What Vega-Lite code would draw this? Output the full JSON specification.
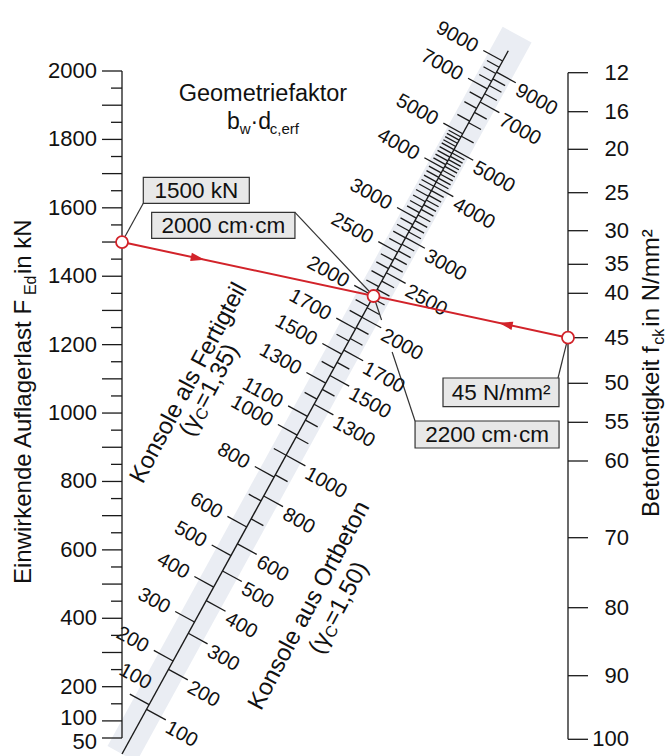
{
  "$schema": "https://vega.github.io/schema/vega-lite/v6.json",
  "width": 446,
  "height": 667,
  "autosize": {"type": "none"},
  "padding": {"left": 122, "top": 72, "right": 101, "bottom": 17},
  "background": "#ffffff",
  "config": {
    "view": {"stroke": null},
    "font": "Liberation Sans",
    "text": {"font": "Liberation Sans", "color": "#111111"}
  },
  "datasets": {
    "fertig": [
      {"A": 100, "kind": "major"}, {"A": 200, "kind": "major"}, {"A": 300, "kind": "major"}, {"A": 400, "kind": "major"},
      {"A": 500, "kind": "major"}, {"A": 600, "kind": "major"}, {"A": 700, "kind": "minor"}, {"A": 800, "kind": "major"},
      {"A": 900, "kind": "minor"}, {"A": 1000, "kind": "major"}, {"A": 1100, "kind": "major"}, {"A": 1200, "kind": "minor"},
      {"A": 1300, "kind": "major"}, {"A": 1400, "kind": "minor"}, {"A": 1500, "kind": "major"}, {"A": 1600, "kind": "minor"},
      {"A": 1700, "kind": "major"}, {"A": 1800, "kind": "minor"}, {"A": 1900, "kind": "minor"}, {"A": 2000, "kind": "major"},
      {"A": 2100, "kind": "minor"}, {"A": 2200, "kind": "minor"}, {"A": 2300, "kind": "minor"}, {"A": 2400, "kind": "minor"},
      {"A": 2500, "kind": "major"}, {"A": 2600, "kind": "minor"}, {"A": 2700, "kind": "minor"}, {"A": 2800, "kind": "minor"},
      {"A": 2900, "kind": "minor"}, {"A": 3000, "kind": "major"}, {"A": 3100, "kind": "minor"}, {"A": 3200, "kind": "minor"},
      {"A": 3300, "kind": "minor"}, {"A": 3400, "kind": "minor"}, {"A": 3500, "kind": "minor"}, {"A": 3600, "kind": "minor"},
      {"A": 3700, "kind": "minor"}, {"A": 3800, "kind": "minor"}, {"A": 3900, "kind": "minor"}, {"A": 4000, "kind": "major"},
      {"A": 4100, "kind": "minor"}, {"A": 4200, "kind": "minor"}, {"A": 4300, "kind": "minor"}, {"A": 4400, "kind": "minor"},
      {"A": 4500, "kind": "minor"}, {"A": 4600, "kind": "minor"}, {"A": 4700, "kind": "minor"}, {"A": 4800, "kind": "minor"},
      {"A": 4900, "kind": "minor"}, {"A": 5000, "kind": "major"}, {"A": 5500, "kind": "minor"}, {"A": 6000, "kind": "minor"},
      {"A": 6500, "kind": "minor"}, {"A": 7000, "kind": "major"}, {"A": 7500, "kind": "minor"}, {"A": 8000, "kind": "minor"},
      {"A": 8500, "kind": "minor"}, {"A": 9000, "kind": "major"}
    ],
    "ort": [
      {"A": 100, "kind": "major"}, {"A": 200, "kind": "major"}, {"A": 300, "kind": "major"}, {"A": 400, "kind": "major"},
      {"A": 500, "kind": "major"}, {"A": 600, "kind": "major"}, {"A": 700, "kind": "minor"}, {"A": 800, "kind": "major"},
      {"A": 900, "kind": "minor"}, {"A": 1000, "kind": "major"}, {"A": 1100, "kind": "minor"}, {"A": 1200, "kind": "minor"},
      {"A": 1300, "kind": "major"}, {"A": 1400, "kind": "minor"}, {"A": 1500, "kind": "major"}, {"A": 1600, "kind": "minor"},
      {"A": 1700, "kind": "major"}, {"A": 1800, "kind": "minor"}, {"A": 1900, "kind": "minor"}, {"A": 2000, "kind": "major"},
      {"A": 2100, "kind": "minor"}, {"A": 2200, "kind": "minor"}, {"A": 2300, "kind": "minor"}, {"A": 2400, "kind": "minor"},
      {"A": 2500, "kind": "major"}, {"A": 2600, "kind": "minor"}, {"A": 2700, "kind": "minor"}, {"A": 2800, "kind": "minor"},
      {"A": 2900, "kind": "minor"}, {"A": 3000, "kind": "major"}, {"A": 3100, "kind": "minor"}, {"A": 3200, "kind": "minor"},
      {"A": 3300, "kind": "minor"}, {"A": 3400, "kind": "minor"}, {"A": 3500, "kind": "minor"}, {"A": 3600, "kind": "minor"},
      {"A": 3700, "kind": "minor"}, {"A": 3800, "kind": "minor"}, {"A": 3900, "kind": "minor"}, {"A": 4000, "kind": "major"},
      {"A": 4100, "kind": "minor"}, {"A": 4200, "kind": "minor"}, {"A": 4300, "kind": "minor"}, {"A": 4400, "kind": "minor"},
      {"A": 4500, "kind": "minor"}, {"A": 4600, "kind": "minor"}, {"A": 4700, "kind": "minor"}, {"A": 4800, "kind": "minor"},
      {"A": 4900, "kind": "minor"}, {"A": 5000, "kind": "major"}, {"A": 5500, "kind": "minor"}, {"A": 6000, "kind": "minor"},
      {"A": 6500, "kind": "minor"}, {"A": 7000, "kind": "major"}, {"A": 7500, "kind": "minor"}, {"A": 8000, "kind": "minor"},
      {"A": 8500, "kind": "minor"}, {"A": 9000, "kind": "major"}
    ],
    "lastAxis": [
      {"F": 50, "kind": "major", "labeled": true}, {"F": 100, "kind": "major", "labeled": true}, {"F": 150, "kind": "minor", "labeled": false},
      {"F": 200, "kind": "major", "labeled": true}, {"F": 250, "kind": "minor", "labeled": false}, {"F": 300, "kind": "major", "labeled": false},
      {"F": 350, "kind": "minor", "labeled": false}, {"F": 400, "kind": "major", "labeled": true}, {"F": 450, "kind": "minor", "labeled": false},
      {"F": 500, "kind": "major", "labeled": false}, {"F": 550, "kind": "minor", "labeled": false}, {"F": 600, "kind": "major", "labeled": true},
      {"F": 650, "kind": "minor", "labeled": false}, {"F": 700, "kind": "major", "labeled": false}, {"F": 750, "kind": "minor", "labeled": false},
      {"F": 800, "kind": "major", "labeled": true}, {"F": 850, "kind": "minor", "labeled": false}, {"F": 900, "kind": "major", "labeled": false},
      {"F": 950, "kind": "minor", "labeled": false}, {"F": 1000, "kind": "major", "labeled": true}, {"F": 1050, "kind": "minor", "labeled": false},
      {"F": 1100, "kind": "major", "labeled": false}, {"F": 1150, "kind": "minor", "labeled": false}, {"F": 1200, "kind": "major", "labeled": true},
      {"F": 1250, "kind": "minor", "labeled": false}, {"F": 1300, "kind": "major", "labeled": false}, {"F": 1350, "kind": "minor", "labeled": false},
      {"F": 1400, "kind": "major", "labeled": true}, {"F": 1450, "kind": "minor", "labeled": false}, {"F": 1500, "kind": "major", "labeled": false},
      {"F": 1550, "kind": "minor", "labeled": false}, {"F": 1600, "kind": "major", "labeled": true}, {"F": 1650, "kind": "minor", "labeled": false},
      {"F": 1700, "kind": "major", "labeled": false}, {"F": 1750, "kind": "minor", "labeled": false}, {"F": 1800, "kind": "major", "labeled": true},
      {"F": 1850, "kind": "minor", "labeled": false}, {"F": 1900, "kind": "major", "labeled": false}, {"F": 1950, "kind": "minor", "labeled": false},
      {"F": 2000, "kind": "major", "labeled": true}
    ],
    "festigkeit": [
      {"fck": 12}, {"fck": 16}, {"fck": 20}, {"fck": 25}, {"fck": 30}, {"fck": 35}, {"fck": 40}, {"fck": 45},
      {"fck": 50}, {"fck": 55}, {"fck": 60}, {"fck": 70}, {"fck": 80}, {"fck": 90}, {"fck": 100}
    ],
    "reading": [{"F": 1500, "fck": 45, "A": 2000, "Ar": 2200}]
  },
  "layer": [
    {
      "name": "diagL",
      "layer": [
        {
          "data": {"values": [{}]},
          "mark": {"type": "rule", "stroke": "#eaedf3", "strokeWidth": 33, "strokeCap": "butt"},
          "encoding": {
            "x": {"datum": 0, "type": "quantitative", "axis": null, "scale": {"nice": false, "zero": false,
              "domain": [0,100,200,300,400,500,600,700,800,900,1000,1100,1200,1300,1400,1500,1600,1700,1800,1900,2000,2250,2500,2750,3000,3500,4000,4500,5000,6000,7000,8000,9000,10000,12000],
              "range": [0,27.09,51.09,72.48,91.68,108.99,124.70,139.00,152.09,164.11,175.18,185.41,194.90,203.72,211.95,219.63,226.83,233.58,239.93,245.91,251.55,264.36,275.58,285.50,294.32,309.35,321.67,331.95,340.66,354.62,365.32,373.77,380.62,386.28,395.10]}},
            "y": {"datum": 0, "type": "quantitative", "axis": null, "scale": {"nice": false, "zero": false,
              "domain": [0,100,200,300,400,500,600,700,800,900,1000,1100,1200,1300,1400,1500,1600,1700,1800,1900,2000,2250,2500,2750,3000,3500,4000,4500,5000,6000,7000,8000,9000,10000,12000],
              "range": [682,632.67,588.99,550.04,515.09,483.56,454.97,428.92,405.10,383.22,363.07,344.44,327.16,311.09,296.12,282.13,269.03,256.74,245.18,234.30,224.02,200.70,180.27,162.21,146.14,118.78,96.35,77.64,61.78,36.36,16.89,1.50,-10.96,-21.27,-37.33]}},
            "x2": {"datum": 12000},
            "y2": {"datum": 12000}
          }
        },
        {
          "data": {"values": [{}]},
          "mark": {"type": "rule", "stroke": "#1a1a1a", "strokeWidth": 1.4},
          "encoding": {
            "x": {"datum": 0, "type": "quantitative", "axis": null},
            "y": {"datum": 0, "type": "quantitative", "axis": null},
            "x2": {"datum": 10000},
            "y2": {"datum": 10000}
          }
        },
        {
          "data": {"name": "fertig"},
          "mark": {"type": "point", "shape": "M0,0L-1,0", "angle": 28.78, "filled": false, "stroke": "#1a1a1a", "strokeWidth": 1.3, "opacity": 1},
          "encoding": {
            "x": {"field": "A", "type": "quantitative", "axis": null},
            "y": {"field": "A", "type": "quantitative", "axis": null},
            "size": {"field": "kind", "type": "ordinal", "scale": {"domain": ["major", "minor"], "range": [1936, 784]}, "legend": null}
          }
        },
        {
          "data": {"name": "fertig"},
          "transform": [{"filter": "datum.kind === 'major' && datum.A !== 100"}],
          "mark": {"type": "text", "angle": 28.78, "align": "right", "baseline": "middle", "dx": -29, "dy": 1, "fontSize": 20},
          "encoding": {
            "x": {"field": "A", "type": "quantitative", "axis": null},
            "y": {"field": "A", "type": "quantitative", "axis": null},
            "text": {"field": "A", "type": "quantitative", "format": "d"}
          }
        },
        {
          "data": {"name": "fertig"},
          "transform": [{"filter": "datum.A === 100"}],
          "mark": {"type": "text", "angle": 28.78, "align": "right", "baseline": "alphabetic", "dx": -9, "dy": -12, "fontSize": 20},
          "encoding": {
            "x": {"field": "A", "type": "quantitative", "axis": null},
            "y": {"field": "A", "type": "quantitative", "axis": null},
            "text": {"field": "A", "type": "quantitative", "format": "d"}
          }
        },
        {
          "data": {"values": [{}]},
          "mark": {"type": "text", "text": "Konsole als Fertigteil", "angle": 298, "align": "center", "baseline": "middle", "dx": -5, "dy": -120, "fontSize": 24},
          "encoding": {"x": {"datum": 1000, "axis": null}, "y": {"datum": 1000, "axis": null}}
        },
        {
          "data": {"values": [{}]},
          "mark": {"type": "text", "text": "(γ", "angle": 298, "align": "left", "baseline": "middle", "dx": -51.8, "dy": -98.6, "fontSize": 24},
          "encoding": {"x": {"datum": 1000, "axis": null}, "y": {"datum": 1000, "axis": null}}
        },
        {
          "data": {"values": [{}]},
          "mark": {"type": "text", "text": "C", "angle": 298, "align": "left", "baseline": "middle", "dx": -31.8, "dy": -93.6, "fontSize": 16},
          "encoding": {"x": {"datum": 1000, "axis": null}, "y": {"datum": 1000, "axis": null}}
        },
        {
          "data": {"values": [{}]},
          "mark": {"type": "text", "text": "=1,35)", "angle": 298, "align": "left", "baseline": "middle", "dx": -20.2, "dy": -98.6, "fontSize": 24},
          "encoding": {"x": {"datum": 1000, "axis": null}, "y": {"datum": 1000, "axis": null}}
        },
        {
          "data": {"name": "reading"},
          "mark": {"type": "rule", "stroke": "#333333", "strokeWidth": 1.2, "x2Offset": -78.6, "y2Offset": -83.7},
          "encoding": {
            "x": {"field": "A", "type": "quantitative", "axis": null},
            "y": {"field": "A", "type": "quantitative", "axis": null},
            "x2": {"field": "A"},
            "y2": {"field": "A"}
          }
        },
        {
          "data": {"name": "reading"},
          "mark": {"type": "rule", "stroke": "#333333", "strokeWidth": 1.2, "x2Offset": 8, "y2Offset": 24},
          "encoding": {
            "x": {"field": "A", "type": "quantitative", "axis": null},
            "y": {"field": "A", "type": "quantitative", "axis": null},
            "x2": {"field": "A"},
            "y2": {"field": "A"}
          }
        },
        {
          "data": {"name": "reading"},
          "mark": {"type": "rule", "stroke": "#333333", "strokeWidth": 1.2, "xOffset": 18.6, "yOffset": 56, "x2Offset": 41.5, "y2Offset": 125},
          "encoding": {
            "x": {"field": "A", "type": "quantitative", "axis": null},
            "y": {"field": "A", "type": "quantitative", "axis": null},
            "x2": {"field": "A"},
            "y2": {"field": "A"}
          }
        },
        {
          "data": {"name": "reading"},
          "mark": {"type": "rect", "fill": "#e8e8e8", "stroke": "#333333", "strokeWidth": 1.2, "xOffset": -221.9, "x2Offset": -78.6, "yOffset": -83.7, "y2Offset": -57.7},
          "encoding": {
            "x": {"field": "A", "type": "quantitative", "axis": null},
            "y": {"field": "A", "type": "quantitative", "axis": null},
            "x2": {"field": "A"},
            "y2": {"field": "A"}
          }
        },
        {
          "data": {"name": "reading"},
          "mark": {"type": "rect", "fill": "#e8e8e8", "stroke": "#333333", "strokeWidth": 1.2, "xOffset": 41.5, "x2Offset": 185.5, "yOffset": 125, "y2Offset": 152},
          "encoding": {
            "x": {"field": "A", "type": "quantitative", "axis": null},
            "y": {"field": "A", "type": "quantitative", "axis": null},
            "x2": {"field": "A"},
            "y2": {"field": "A"}
          }
        },
        {
          "data": {"name": "reading"},
          "mark": {"type": "text", "text": {"expr": "datum.A + ' cm·cm'"}, "align": "center", "baseline": "middle", "dx": -150.2, "dy": -70.2, "fontSize": 22.5},
          "encoding": {
            "x": {"field": "A", "type": "quantitative", "axis": null},
            "y": {"field": "A", "type": "quantitative", "axis": null}
          }
        },
        {
          "data": {"name": "reading"},
          "mark": {"type": "text", "text": {"expr": "datum.Ar + ' cm·cm'"}, "align": "center", "baseline": "middle", "dx": 113.5, "dy": 139, "fontSize": 22.5},
          "encoding": {
            "x": {"field": "A", "type": "quantitative", "axis": null},
            "y": {"field": "A", "type": "quantitative", "axis": null}
          }
        }
      ]
    },
    {
      "name": "diagR",
      "layer": [
        {
          "data": {"name": "ort"},
          "mark": {"type": "point", "shape": "M0,0L1,0", "angle": 28.78, "filled": false, "stroke": "#1a1a1a", "strokeWidth": 1.3, "opacity": 1},
          "encoding": {
            "x": {"field": "A", "type": "quantitative", "axis": null, "scale": {"nice": false, "zero": false,
              "domain": [0,100,200,300,400,500,600,700,800,900,1000,1100,1200,1300,1400,1500,1600,1700,1800,1900,2000,2250,2500,2750,3000,3500,4000,4500,5000,6000,7000,8000,9000,10000],
              "range": [0,24.53,46.51,66.30,84.23,100.54,115.44,129.12,141.70,153.32,164.09,174.10,183.41,192.11,200.26,207.89,215.07,221.83,228.20,234.22,239.91,252.90,264.34,274.51,283.59,299.15,312.00,322.77,331.94,346.72,358.11,367.16,374.51,380.61]}},
            "y": {"field": "A", "type": "quantitative", "axis": null, "scale": {"nice": false, "zero": false,
              "domain": [0,100,200,300,400,500,600,700,800,900,1000,1100,1200,1300,1400,1500,1600,1700,1800,1900,2000,2250,2500,2750,3000,3500,4000,4500,5000,6000,7000,8000,9000,10000],
              "range": [682,637.33,597.32,561.29,528.65,498.95,471.82,446.93,424.02,402.86,383.25,365.04,348.07,332.23,317.40,303.50,290.44,278.14,266.54,255.58,245.21,221.56,200.73,182.22,165.68,137.35,113.97,94.35,77.65,50.74,30.01,13.55,0.16,-10.95]}},
            "size": {"field": "kind", "type": "ordinal", "scale": {"domain": ["major", "minor"], "range": [1936, 784]}, "legend": null}
          }
        },
        {
          "data": {"name": "ort"},
          "transform": [{"filter": "datum.kind === 'major'"}],
          "mark": {"type": "text", "angle": 28.78, "align": "left", "baseline": "middle", "dx": 26, "dy": 5, "fontSize": 20},
          "encoding": {
            "x": {"field": "A", "type": "quantitative", "axis": null},
            "y": {"field": "A", "type": "quantitative", "axis": null},
            "text": {"field": "A", "type": "quantitative", "format": "d"}
          }
        },
        {
          "data": {"values": [{}]},
          "mark": {"type": "text", "text": "Konsole aus Ortbeton", "angle": 298, "align": "center", "baseline": "middle", "dx": 10, "dy": 93, "fontSize": 24},
          "encoding": {"x": {"datum": 500, "axis": null}, "y": {"datum": 500, "axis": null}}
        },
        {
          "data": {"values": [{}]},
          "mark": {"type": "text", "text": "(γ", "angle": 298, "align": "left", "baseline": "middle", "dx": -28.2, "dy": 120, "fontSize": 24},
          "encoding": {"x": {"datum": 500, "axis": null}, "y": {"datum": 500, "axis": null}}
        },
        {
          "data": {"values": [{}]},
          "mark": {"type": "text", "text": "C", "angle": 298, "align": "left", "baseline": "middle", "dx": -8.2, "dy": 125, "fontSize": 16},
          "encoding": {"x": {"datum": 500, "axis": null}, "y": {"datum": 500, "axis": null}}
        },
        {
          "data": {"values": [{}]},
          "mark": {"type": "text", "text": "=1,50)", "angle": 298, "align": "left", "baseline": "middle", "dx": 3.4, "dy": 120, "fontSize": 24},
          "encoding": {"x": {"datum": 500, "axis": null}, "y": {"datum": 500, "axis": null}}
        }
      ]
    },
    {
      "name": "fck",
      "layer": [
        {
          "data": {"name": "reading"},
          "mark": {"type": "rule", "stroke": "#333333", "strokeWidth": 1.2, "x2Offset": -10, "y2Offset": 40.3},
          "encoding": {
            "x": {"datum": 1, "type": "quantitative", "axis": null, "scale": {"domain": [0, 1], "range": [0, 446], "nice": false, "zero": false}},
            "x2": {"datum": 1},
            "y": {"field": "fck", "type": "quantitative", "axis": null,
              "scale": {"nice": false, "zero": false,
                "domain": [12,16,20,25,30,35,40,45,50,55,60,70,80,90,100],
                "range": [0.7,39.7,77.3,120.7,158.7,192.3,221.3,265.7,311.3,350.3,389,465.7,535.7,603.7,667.3]}},
            "y2": {"field": "fck"}
          }
        },
        {
          "data": {"values": [{}]},
          "mark": {"type": "rule", "stroke": "#1a1a1a", "strokeWidth": 1.3},
          "encoding": {
            "x": {"datum": 1, "axis": null},
            "y": {"datum": 12, "axis": null},
            "y2": {"datum": 100}
          }
        },
        {
          "data": {"name": "festigkeit"},
          "mark": {"type": "point", "shape": "M0,0L1,0", "filled": false, "stroke": "#1a1a1a", "strokeWidth": 1.3, "opacity": 1, "size": 1600},
          "encoding": {
            "x": {"datum": 1, "axis": null},
            "y": {"field": "fck", "type": "quantitative", "axis": null}
          }
        },
        {
          "data": {"name": "festigkeit"},
          "mark": {"type": "text", "align": "right", "baseline": "middle", "dx": 61, "fontSize": 22},
          "encoding": {
            "x": {"datum": 1, "axis": null},
            "y": {"field": "fck", "type": "quantitative", "axis": null},
            "text": {"field": "fck", "type": "quantitative", "format": "d"}
          }
        },
        {
          "data": {"name": "reading"},
          "mark": {"type": "rect", "fill": "#e8e8e8", "stroke": "#333333", "strokeWidth": 1.2, "xOffset": -125, "x2Offset": -9, "yOffset": 40.3, "y2Offset": 69},
          "encoding": {
            "x": {"datum": 1, "axis": null},
            "x2": {"datum": 1},
            "y": {"field": "fck", "type": "quantitative", "axis": null},
            "y2": {"field": "fck"}
          }
        },
        {
          "data": {"name": "reading"},
          "mark": {"type": "text", "text": {"expr": "datum.fck + ' N/mm²'"}, "align": "center", "baseline": "middle", "dx": -67, "dy": 55, "fontSize": 22.5},
          "encoding": {
            "x": {"datum": 1, "axis": null},
            "y": {"field": "fck", "type": "quantitative", "axis": null}
          }
        },
        {
          "data": {"values": [{}]},
          "mark": {"type": "text", "text": "Betonfestigkeit f", "angle": 270, "align": "left", "baseline": "alphabetic", "dx": 20.7, "fontSize": 24},
          "encoding": {"x": {"datum": 1.205, "axis": null}, "y": {"datum": 70, "axis": null}}
        },
        {
          "data": {"values": [{}]},
          "mark": {"type": "text", "text": "ck", "angle": 270, "align": "left", "baseline": "alphabetic", "dx": 193, "dy": 5, "fontSize": 16},
          "encoding": {"x": {"datum": 1.205, "axis": null}, "y": {"datum": 70, "axis": null}}
        },
        {
          "data": {"values": [{}]},
          "mark": {"type": "text", "text": " in N/mm²", "angle": 270, "align": "left", "baseline": "alphabetic", "dx": 211, "fontSize": 24},
          "encoding": {"x": {"datum": 1.205, "axis": null}, "y": {"datum": 70, "axis": null}}
        }
      ]
    },
    {
      "name": "f",
      "layer": [
        {
          "data": {"name": "reading"},
          "mark": {"type": "rule", "color": "#d2232a", "strokeWidth": 2},
          "encoding": {
            "x": {"datum": 0, "type": "quantitative", "axis": null, "scale": {"domain": [0, 1], "range": [0, 446], "nice": false, "zero": false}},
            "x2": {"datum": 1},
            "y": {"field": "F", "type": "quantitative", "axis": null,
              "scale": {"domain": [50, 2000], "range": [666, -1], "nice": false, "zero": false}},
            "y2": {"value": {"expr": "scale('fck_y', datum.fck)"}}
          }
        },
        {
          "data": {"values": [{}]},
          "mark": {"type": "rule", "stroke": "#1a1a1a", "strokeWidth": 1.3},
          "encoding": {
            "x": {"datum": 0, "axis": null},
            "y": {"datum": 50, "axis": null},
            "y2": {"datum": 2000}
          }
        },
        {
          "data": {"name": "lastAxis"},
          "mark": {"type": "point", "shape": "M0,0L-1,0", "filled": false, "stroke": "#1a1a1a", "strokeWidth": 1.3, "opacity": 1},
          "encoding": {
            "x": {"datum": 0, "axis": null},
            "y": {"field": "F", "type": "quantitative", "axis": null},
            "size": {"field": "kind", "type": "ordinal", "scale": {"domain": ["major", "minor"], "range": [1600, 484]}, "legend": null}
          }
        },
        {
          "data": {"name": "lastAxis"},
          "transform": [{"filter": "datum.labeled && datum.F > 100"}],
          "mark": {"type": "text", "align": "right", "baseline": "middle", "dx": -25, "fontSize": 22},
          "encoding": {
            "x": {"datum": 0, "axis": null},
            "y": {"field": "F", "type": "quantitative", "axis": null},
            "text": {"field": "F", "type": "quantitative", "format": "d"}
          }
        },
        {
          "data": {"name": "lastAxis"},
          "transform": [{"filter": "datum.F === 100"}],
          "mark": {"type": "text", "align": "right", "baseline": "middle", "dx": -25, "dy": -3, "fontSize": 22},
          "encoding": {
            "x": {"datum": 0, "axis": null},
            "y": {"field": "F", "type": "quantitative", "axis": null},
            "text": {"field": "F", "type": "quantitative", "format": "d"}
          }
        },
        {
          "data": {"name": "lastAxis"},
          "transform": [{"filter": "datum.F === 50"}],
          "mark": {"type": "text", "align": "right", "baseline": "middle", "dx": -25, "dy": 4, "fontSize": 22},
          "encoding": {
            "x": {"datum": 0, "axis": null},
            "y": {"field": "F", "type": "quantitative", "axis": null},
            "text": {"field": "F", "type": "quantitative", "format": "d"}
          }
        },
        {
          "data": {"name": "reading"},
          "mark": {"type": "point", "shape": "M1,0L-1,-0.6L-1,0.6Z", "filled": true, "color": "#d2232a", "opacity": 1, "size": 196,
            "angle": {"expr": "atan2(scale('fck_y', datum.fck) - scale('f_y', datum.F), width) * 180 / PI"}},
          "encoding": {
            "x": {"datum": 0.17, "axis": null},
            "y": {"value": {"expr": "0.83 * scale('f_y', datum.F) + 0.17 * scale('fck_y', datum.fck)"}}
          }
        },
        {
          "data": {"name": "reading"},
          "mark": {"type": "point", "shape": "M1,0L-1,-0.6L-1,0.6Z", "filled": true, "color": "#d2232a", "opacity": 1, "size": 196,
            "angle": {"expr": "atan2(scale('fck_y', datum.fck) - scale('f_y', datum.F), width) * 180 / PI + 180"}},
          "encoding": {
            "x": {"datum": 0.86, "axis": null},
            "y": {"value": {"expr": "0.14 * scale('f_y', datum.F) + 0.86 * scale('fck_y', datum.fck)"}}
          }
        },
        {
          "data": {"name": "reading"},
          "mark": {"type": "rule", "stroke": "#333333", "strokeWidth": 1.2, "x2Offset": 21.3, "y2Offset": -38.7},
          "encoding": {
            "x": {"datum": 0, "axis": null},
            "x2": {"datum": 0},
            "y": {"field": "F", "type": "quantitative", "axis": null},
            "y2": {"field": "F"}
          }
        },
        {
          "data": {"name": "reading"},
          "mark": {"type": "rect", "fill": "#e8e8e8", "stroke": "#333333", "strokeWidth": 1.2, "xOffset": 21.3, "x2Offset": 127.3, "yOffset": -64.7, "y2Offset": -38.7},
          "encoding": {
            "x": {"datum": 0, "axis": null},
            "x2": {"datum": 0},
            "y": {"field": "F", "type": "quantitative", "axis": null},
            "y2": {"field": "F"}
          }
        },
        {
          "data": {"name": "reading"},
          "mark": {"type": "text", "text": {"expr": "datum.F + ' kN'"}, "align": "center", "baseline": "middle", "dx": 74.3, "dy": -51.2, "fontSize": 22.5},
          "encoding": {
            "x": {"datum": 0, "axis": null},
            "y": {"field": "F", "type": "quantitative", "axis": null}
          }
        },
        {
          "data": {"values": [{}]},
          "mark": {"type": "text", "text": "Einwirkende Auflagerlast F", "angle": 270, "align": "left", "baseline": "alphabetic", "fontSize": 24},
          "encoding": {"x": {"datum": -0.203, "axis": null}, "y": {"datum": 500, "axis": null}}
        },
        {
          "data": {"values": [{}]},
          "mark": {"type": "text", "text": "Ed", "angle": 270, "align": "left", "baseline": "alphabetic", "dx": 289, "dy": 5, "fontSize": 16},
          "encoding": {"x": {"datum": -0.203, "axis": null}, "y": {"datum": 500, "axis": null}}
        },
        {
          "data": {"values": [{}]},
          "mark": {"type": "text", "text": " in kN", "angle": 270, "align": "left", "baseline": "alphabetic", "dx": 310, "fontSize": 24},
          "encoding": {"x": {"datum": -0.203, "axis": null}, "y": {"datum": 500, "axis": null}}
        },
        {
          "data": {"values": [{}]},
          "mark": {"type": "text", "text": "Geometriefaktor", "align": "center", "baseline": "alphabetic", "dy": -4, "fontSize": 23.5},
          "encoding": {"x": {"datum": 0.316, "axis": null}, "y": {"datum": 1900, "axis": null}}
        },
        {
          "data": {"values": [{}]},
          "mark": {"type": "text", "text": "b", "align": "left", "baseline": "alphabetic", "dx": -36, "fontSize": 23},
          "encoding": {"x": {"datum": 0.316, "axis": null}, "y": {"datum": 1830, "axis": null}}
        },
        {
          "data": {"values": [{}]},
          "mark": {"type": "text", "text": "w", "align": "left", "baseline": "alphabetic", "dx": -23.2, "dy": 5, "fontSize": 15},
          "encoding": {"x": {"datum": 0.316, "axis": null}, "y": {"datum": 1830, "axis": null}}
        },
        {
          "data": {"values": [{}]},
          "mark": {"type": "text", "text": "·d", "align": "left", "baseline": "alphabetic", "dx": -12.4, "fontSize": 23},
          "encoding": {"x": {"datum": 0.316, "axis": null}, "y": {"datum": 1830, "axis": null}}
        },
        {
          "data": {"values": [{}]},
          "mark": {"type": "text", "text": "c,erf", "align": "left", "baseline": "alphabetic", "dx": 6.8, "dy": 5, "fontSize": 15},
          "encoding": {"x": {"datum": 0.316, "axis": null}, "y": {"datum": 1830, "axis": null}}
        },
        {
          "data": {"name": "reading"},
          "mark": {"type": "point", "shape": "circle", "filled": true, "fill": "#ffffff", "stroke": "#d2232a", "strokeWidth": 1.8, "size": 144, "opacity": 1},
          "encoding": {
            "x": {"datum": 0, "axis": null},
            "y": {"field": "F", "type": "quantitative", "axis": null}
          }
        },
        {
          "data": {"name": "reading"},
          "mark": {"type": "point", "shape": "circle", "filled": true, "fill": "#ffffff", "stroke": "#d2232a", "strokeWidth": 1.8, "size": 144, "opacity": 1},
          "encoding": {
            "x": {"datum": 1, "axis": null},
            "y": {"value": {"expr": "scale('fck_y', datum.fck)"}}
          }
        },
        {
          "data": {"name": "reading"},
          "mark": {"type": "point", "shape": "circle", "filled": true, "fill": "#ffffff", "stroke": "#d2232a", "strokeWidth": 1.8, "size": 144, "opacity": 1},
          "encoding": {
            "x": {"value": {"expr": "scale('diagL_x', datum.A)"}},
            "y": {"value": {"expr": "scale('diagL_y', datum.A)"}}
          }
        }
      ]
    }
  ],
  "resolve": {"scale": {"x": "independent", "y": "independent", "size": "independent"}}
}
